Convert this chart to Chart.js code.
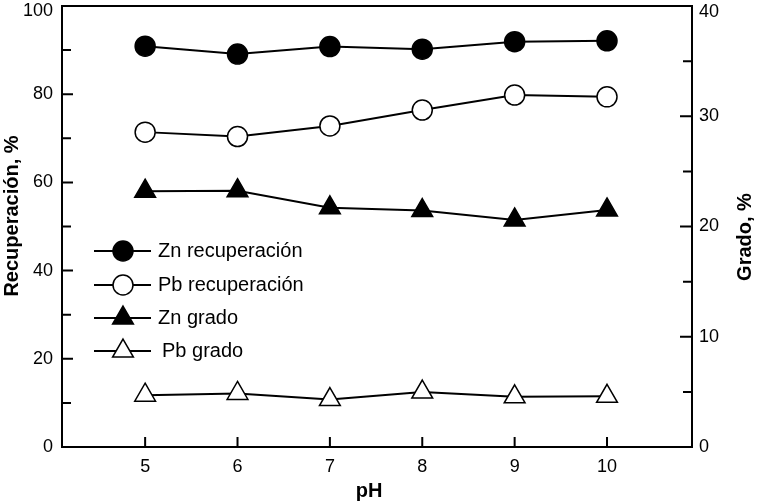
<!DOCTYPE html>
<html>
<head>
<meta charset="utf-8">
<script src="https://cdn.jsdelivr.net/npm/chart.js@4.4.0/dist/chart.umd.min.js"></script>
<style>
  html, body { margin: 0; padding: 0; background: #fff; }
  #wrap { width: 770px; height: 502px; }
</style>
</head>
<body>
<div id="wrap"><canvas id="chart" width="770" height="502"></canvas></div>
<script>
/* ---- Data ---- */
const PH          = [5, 6, 7, 8, 9, 10];
const ZN_REC      = [90.9, 89.1, 90.8, 90.2, 91.9, 92.1];
const PB_REC      = [71.4, 70.4, 72.8, 76.4, 79.8, 79.4];
const ZN_GRADO    = [23.2, 23.25, 21.7, 21.45, 20.6, 21.5];
const PB_GRADO    = [4.7, 4.86, 4.3, 4.98, 4.55, 4.6];

const X_TICKS     = [5, 6, 7, 8, 9, 10];
const LEFT_TICKS  = [0, 20, 40, 60, 80, 100];
const LEFT_MINOR  = [10, 30, 50, 70, 90];
const RIGHT_TICKS = [0, 10, 20, 30, 40];
const RIGHT_MINOR = [5, 15, 25, 35];

const LABELS = ['Zn recuperación', 'Pb recuperación', 'Zn grado', 'Pb grado'];

const FONT = '"Liberation Sans", Arial, sans-serif';
const pts = vals => PH.map((x, i) => ({ x, y: vals[i] }));

function series(label, vals, axis, style, fill) {
  return {
    label,
    data: pts(vals),
    yAxisID: axis,
    borderColor: '#000',
    borderWidth: 2,
    pointStyle: style,
    pointRadius: style === 'triangle' ? 12 : 10,
    pointBackgroundColor: fill,
    pointBorderColor: '#000',
    pointBorderWidth: 1.5,
    tension: 0
  };
}

// keep the plot box fixed: no extra room for half tick labels
function noPad(s) {
  s.paddingTop = 0; s.paddingBottom = 0;
  s.paddingLeft = 0; s.paddingRight = 0;
}

/* ---- Frame, inward ticks, y labels, titles, legend ---- */
const decorPlugin = {
  id: 'decor',
  beforeDatasetsDraw(chart) {
    const { ctx, chartArea: a, scales } = chart;
    ctx.save();
    ctx.strokeStyle = '#000';
    ctx.lineWidth = 2;
    ctx.strokeRect(a.left, a.top, a.right - a.left, a.bottom - a.top);

    ctx.beginPath();
    X_TICKS.forEach(v => {
      const x = scales.x.getPixelForValue(v);
      ctx.moveTo(x, a.bottom); ctx.lineTo(x, a.bottom - 10);
    });
    LEFT_TICKS.forEach(v => {
      const y = scales.y.getPixelForValue(v);
      ctx.moveTo(a.left, y); ctx.lineTo(a.left + 11, y);
    });
    LEFT_MINOR.forEach(v => {
      const y = scales.y.getPixelForValue(v);
      ctx.moveTo(a.left, y); ctx.lineTo(a.left + 9, y);
    });
    RIGHT_TICKS.forEach(v => {
      const y = scales.y1.getPixelForValue(v);
      ctx.moveTo(a.right, y); ctx.lineTo(a.right - 12, y);
    });
    RIGHT_MINOR.forEach(v => {
      const y = scales.y1.getPixelForValue(v);
      ctx.moveTo(a.right, y); ctx.lineTo(a.right - 9, y);
    });
    ctx.stroke();

    // y tick labels (top ones nudged down so they stay on the canvas)
    ctx.fillStyle = '#000';
    ctx.font = '18px ' + FONT;
    ctx.textBaseline = 'middle';
    ctx.textAlign = 'right';
    LEFT_TICKS.forEach(v => {
      ctx.fillText(String(v), a.left - 9, Math.max(scales.y.getPixelForValue(v), 11));
    });
    ctx.textAlign = 'left';
    RIGHT_TICKS.forEach(v => {
      ctx.fillText(String(v), a.right + 7, Math.max(scales.y1.getPixelForValue(v), 12));
    });
    ctx.restore();
  },
  afterDraw(chart) {
    const { ctx } = chart;
    ctx.save();
    ctx.fillStyle = '#000';
    ctx.font = 'bold 20px ' + FONT;
    ctx.textAlign = 'center';
    ctx.textBaseline = 'middle';

    ctx.fillText('pH', 369, 491);

    ctx.save();
    ctx.translate(12, 216);
    ctx.rotate(-Math.PI / 2);
    ctx.fillText('Recuperación, %', 0, 0);
    ctx.restore();

    ctx.save();
    ctx.translate(745, 237);
    ctx.rotate(-Math.PI / 2);
    ctx.fillText('Grado, %', 0, 0);
    ctx.restore();

    // legend
    const rows = [251, 285, 318, 351];
    ctx.font = '20px ' + FONT;
    ctx.textAlign = 'left';
    chart.data.datasets.forEach((ds, i) => {
      const y = rows[i];
      ctx.strokeStyle = '#000';
      ctx.lineWidth = 2;
      ctx.beginPath();
      ctx.moveTo(94, y); ctx.lineTo(151, y);
      ctx.stroke();
      ctx.fillStyle = ds.pointBackgroundColor;
      ctx.lineWidth = ds.pointBorderWidth;
      Chart.helpers.drawPoint(ctx, {
        pointStyle: ds.pointStyle,
        radius: ds.pointRadius,
        rotation: 0,
        borderWidth: ds.pointBorderWidth
      }, 123, y);
      ctx.fillStyle = '#000';
      ctx.fillText(ds.label, i === 3 ? 162 : 158, y);
    });
    ctx.restore();
  }
};

new Chart(document.getElementById('chart'), {
  type: 'line',
  data: {
    datasets: [
      series(LABELS[0], ZN_REC, 'y', 'circle', '#000'),
      series(LABELS[1], PB_REC, 'y', 'circle', '#fff'),
      series(LABELS[2], ZN_GRADO, 'y1', 'triangle', '#000'),
      series(LABELS[3], PB_GRADO, 'y1', 'triangle', '#fff')
    ]
  },
  options: {
    responsive: false,
    animation: false,
    devicePixelRatio: 1,
    layout: { autoPadding: false, padding: { top: 6, left: 0, right: 0, bottom: 0 } },
    plugins: { legend: { display: false }, tooltip: { enabled: false } },
    scales: {
      x: {
        type: 'linear',
        min: 4.1,
        max: 10.92,
        afterBuildTicks: s => { s.ticks = X_TICKS.map(v => ({ value: v })); },
        afterFit: s => { s.height = 55; noPad(s); },
        grid: { display: false, drawTicks: false },
        border: { display: false },
        ticks: { color: '#000', font: { family: FONT, size: 18 }, padding: 9, maxRotation: 0, autoSkip: false }
      },
      y: {
        position: 'left',
        min: 0,
        max: 100,
        afterBuildTicks: s => { s.ticks = LEFT_TICKS.map(v => ({ value: v })); },
        afterFit: s => { s.width = 62; noPad(s); },
        grid: { display: false, drawTicks: false },
        border: { display: false },
        ticks: { display: false }
      },
      y1: {
        position: 'right',
        min: 0,
        max: 40,
        afterBuildTicks: s => { s.ticks = RIGHT_TICKS.map(v => ({ value: v })); },
        afterFit: s => { s.width = 78; noPad(s); },
        grid: { display: false, drawTicks: false },
        border: { display: false },
        ticks: { display: false }
      }
    }
  },
  plugins: [decorPlugin]
});
</script>
</body>
</html>
